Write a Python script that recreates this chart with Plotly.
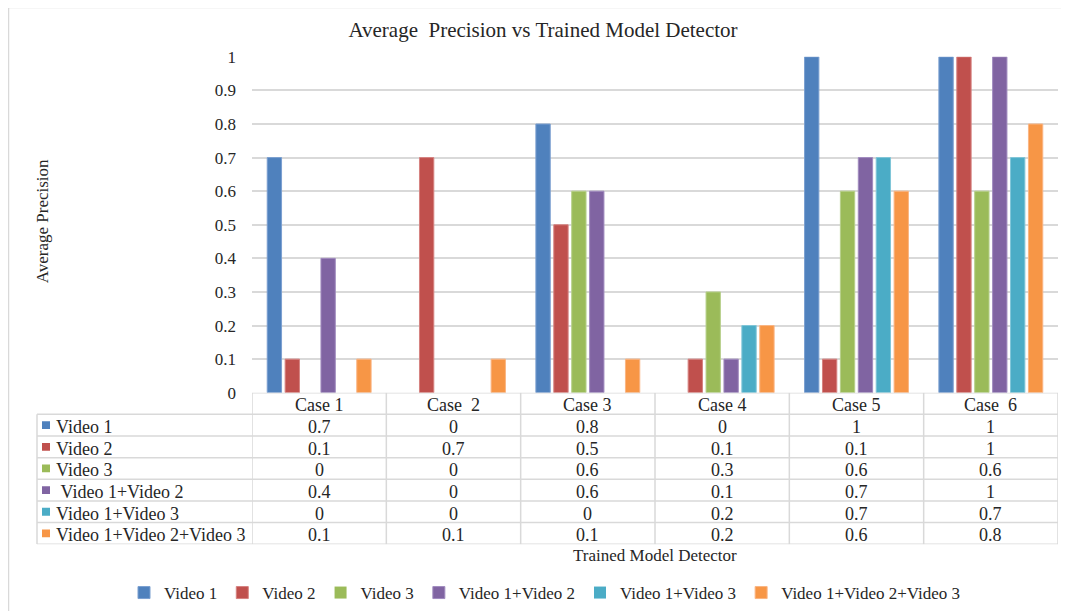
import plotly.graph_objects as go

# page has an 8px body margin, so the figure is drawn at (8, 8)
OFF = 8
W, H = 1069 - OFF, 611 - OFF

categories = ["Case 1", "Case\u00a0 2", "Case 3", "Case 4", "Case 5", "Case\u00a0 6"]
series_names = ["Video 1", "Video 2", "Video 3", "\u00a0Video 1+Video 2", "Video 1+Video 3", "Video 1+Video 2+Video 3"]
video1 = [0.7, 0, 0.8, 0, 1, 1]
video2 = [0.1, 0.7, 0.5, 0.1, 0.1, 1]
video3 = [0, 0, 0.6, 0.3, 0.6, 0.6]
video12 = [0.4, 0, 0.6, 0.1, 0.7, 1]
video13 = [0, 0, 0, 0.2, 0.7, 0.7]
video123 = [0.1, 0.1, 0.1, 0.2, 0.6, 0.8]
series_values = [video1, video2, video3, video12, video13, video123]
colors = ["#4F81BD", "#C0504D", "#9BBB59", "#8064A2", "#4BACC6", "#F79646"]
edge_colors = ["#7A9FD0", "#D68280", "#B7D08A", "#A08BBF", "#7FC6D8", "#FAB583"]
y_ticks = [0, 0.1, 0.2, 0.3, 0.4, 0.5, 0.6, 0.7, 0.8, 0.9, 1]
y_ticktext = ["0", "0.1", "0.2", "0.3", "0.4", "0.5", "0.6", "0.7", "0.8", "0.9", "1"]

FONT = "Liberation Serif"
GRID = "#D9D9D9"
TXT = "#262626"

def px_x(p):
    return (p - OFF) / W

def px_y(p):
    return 1 - (p - OFF) / H

plot_left, plot_right = 252, 1058
plot_top, plot_bottom = 57, 394
table_bottom = 546
table_left = 37

fig = go.Figure()
x_idx = list(range(len(categories)))
for name, vals, c, ec in zip(series_names, series_values, colors, edge_colors):
    fig.add_trace(go.Bar(
        x=x_idx, y=vals, name=name.strip(),
        marker=dict(color=c, line=dict(color=ec, width=[1 if v > 0 else 0 for v in vals])),
        xaxis="x", yaxis="y",
    ))
fig.add_trace(go.Scatter(x=[0], y=[0], xaxis="x", yaxis="y2", mode="markers",
                         marker=dict(opacity=0), showlegend=False, hoverinfo="skip"))

shapes = []
annotations = []
nrows = len(series_names) + 1
for r in range(0, nrows + 1):
    x0 = plot_left if r == 0 else table_left
    shapes.append(dict(type="line", xref="paper", yref="y2", x0=px_x(x0), x1=px_x(plot_right),
                       y0=r, y1=r, line=dict(color=GRID, width=1.5), layer="above"))
for k in range(len(categories) + 1):
    shapes.append(dict(type="line", xref="x", yref="y2", x0=k - 0.5, x1=k - 0.5,
                       y0=0, y1=nrows, line=dict(color=GRID, width=1.5), layer="above"))
shapes.append(dict(type="line", xref="paper", yref="y2", x0=px_x(table_left), x1=px_x(table_left),
                   y0=1, y1=nrows, line=dict(color=GRID, width=1.5), layer="above"))
shapes.append(dict(type="rect", xref="paper", yref="paper", x0=px_x(8.5), x1=1.02,
                   y0=-0.02, y1=px_y(7.5), line=dict(color=GRID, width=1.5), layer="below"))

for i, cat in enumerate(categories):
    annotations.append(dict(x=i, y=0.5, xref="x", yref="y2", text=cat, showarrow=False,
                            xanchor="center", yanchor="middle", yshift=-1,
                            font=dict(family=FONT, size=18, color=TXT)))
for r, (name, vals, c) in enumerate(zip(series_names, series_values, colors)):
    yc = r + 1.5
    shapes.append(dict(type="rect", xref="paper", yref="y2", x0=px_x(42), x1=px_x(50),
                       y0=yc - 0.18, y1=yc + 0.18, fillcolor=c, line=dict(width=0)))
    annotations.append(dict(x=px_x(54), y=yc, xref="paper", yref="y2", text=name, showarrow=False,
                            xanchor="left", yanchor="middle", yshift=-2,
                            font=dict(family=FONT, size=18, color=TXT)))
    for i, v in enumerate(vals):
        annotations.append(dict(x=i, y=yc, xref="x", yref="y2", text=f"{v:g}", showarrow=False,
                                xanchor="center", yanchor="middle", yshift=-2,
                                font=dict(family=FONT, size=18, color=TXT)))

annotations.append(dict(x=px_x(42), y=px_y(222), xref="paper", yref="paper", text="Average Precision",
                        textangle=-90, showarrow=False, xanchor="center", yanchor="middle",
                        font=dict(family=FONT, size=17, color=TXT)))
annotations.append(dict(x=px_x(655), y=px_y(557), xref="paper", yref="paper", text="Trained Model Detector",
                        showarrow=False, xanchor="center", yanchor="middle",
                        font=dict(family=FONT, size=17, color=TXT)))

fig.update_layout(
    width=W, height=H,
    margin=dict(l=0, r=0, t=0, b=0, pad=0),
    paper_bgcolor="white", plot_bgcolor="white",
    title=dict(text="Average\u00a0 Precision vs Trained Model Detector", x=px_x(543), xanchor="center",
               y=px_y(30), yanchor="middle", xref="paper", yref="container",
               font=dict(family=FONT, size=21, color=TXT)),
    barmode="group", bargap=0.2, bargroupgap=0.2,
    xaxis=dict(domain=[px_x(plot_left), px_x(plot_right)], range=[-0.5, len(categories) - 0.5],
               showticklabels=False, showgrid=False, zeroline=False, showline=False, ticks="",
               anchor="y", fixedrange=True),
    yaxis=dict(domain=[px_y(plot_bottom), px_y(plot_top)], range=[0, 1], tickvals=y_ticks,
               ticktext=y_ticktext, showgrid=True, gridcolor=GRID, gridwidth=1.5, zeroline=False,
               showline=False, ticks="", ticklabelstandoff=15, automargin=False,
               tickfont=dict(family=FONT, size=17, color=TXT), anchor="x"),
    yaxis2=dict(domain=[px_y(table_bottom), px_y(plot_bottom)], range=[nrows, 0], visible=False,
                anchor="x", fixedrange=True),
    legend=dict(orientation="h", x=px_x(545), xanchor="center", y=px_y(595), yanchor="middle",
                font=dict(family=FONT, size=17, color=TXT), itemwidth=30,
                bgcolor="rgba(0,0,0,0)"),
    shapes=shapes, annotations=annotations,
    showlegend=True,
)

fig.write_html("out.html")
